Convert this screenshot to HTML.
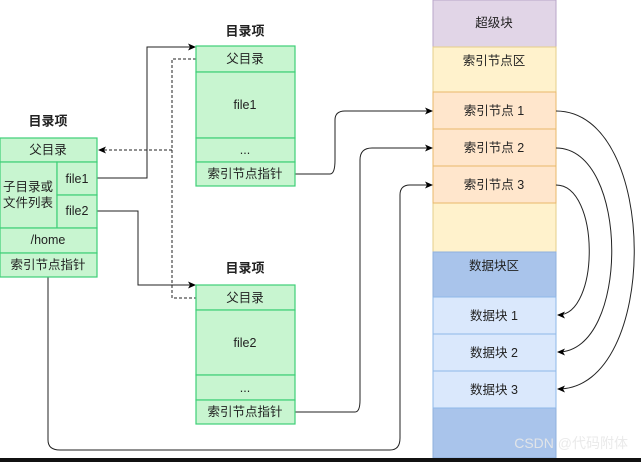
<!DOCTYPE html><html><head><meta charset="utf-8"><style>
body{margin:0;background:#fff;width:641px;height:462px;overflow:hidden}
svg text{font-family:"Liberation Sans","Noto Sans CJK SC",sans-serif;font-size:12.5px;fill:#222;text-anchor:middle;dominant-baseline:central}
.g{fill:#c8f5d0;stroke:#3ecf77;stroke-width:1.2}
.t{font-weight:bold;font-size:13px}
</style></head><body>
<svg width="641" height="462" xmlns="http://www.w3.org/2000/svg">
<defs><marker id="a" markerWidth="8" markerHeight="8" refX="7" refY="4" orient="auto" markerUnits="userSpaceOnUse"><path d="M0,0.5 L8,4 L0,7.5 L2,4Z" fill="#000"/></marker></defs>
<rect x="433" y="0" width="123" height="47" fill="#e1d5e7" stroke="#b9a6c9"/>
<rect x="433" y="47" width="123" height="205" fill="#fff2cc" stroke="#e6cf8a"/>
<rect x="433" y="92" width="123" height="37" fill="#ffe6cc" stroke="#e8b86a"/>
<rect x="433" y="129" width="123" height="37" fill="#ffe6cc" stroke="#e8b86a"/>
<rect x="433" y="166" width="123" height="37" fill="#ffe6cc" stroke="#e8b86a"/>
<rect x="433" y="252" width="123" height="206" fill="#a9c4eb" stroke="#8fb0de"/>
<rect x="433" y="297" width="123" height="37" fill="#dae8fc" stroke="#8fb8e8"/>
<rect x="433" y="334" width="123" height="37" fill="#dae8fc" stroke="#8fb8e8"/>
<rect x="433" y="371" width="123" height="37" fill="#dae8fc" stroke="#8fb8e8"/>
<text x="494" y="23">超级块</text><text x="494" y="61">索引节点区</text>
<text x="494" y="111">索引节点 1</text><text x="494" y="148">索引节点 2</text><text x="494" y="185">索引节点 3</text>
<text x="494" y="266">数据块区</text>
<text x="494" y="316">数据块 1</text><text x="494" y="353">数据块 2</text><text x="494" y="390">数据块 3</text>
<rect x="0" y="458" width="641" height="4" fill="#111"/>
<g fill="none" stroke="#222" stroke-width="1">
<path d="M556,111 C660,111 660,389 558,389" marker-end="url(#a)"/>
<path d="M556,148 C630,148 630,352 558,352" marker-end="url(#a)"/>
<path d="M556,185 C600,185 600,315 558,315" marker-end="url(#a)"/>
<path d="M97,178 H147 V47 H195" marker-end="url(#a)"/>
<path d="M97,211 H138 V285 H195" marker-end="url(#a)"/>
<path d="M295,174 H330 Q335,174 335,160 V120 Q335,111 345,111 H432" marker-end="url(#a)"/>
<path d="M295,412 H355 Q360,412 360,400 V160 Q360,148 372,148 H432" marker-end="url(#a)"/>
<path d="M48,277 V440 Q48,450 60,450 H390 Q400,450 400,438 V195 Q400,185 410,185 H432" marker-end="url(#a)"/>
<path d="M196,59 H172 V298 H196 M172,150 H99" stroke-dasharray="3,2" marker-end="url(#a)"/>
</g>
<text x="628" y="443" style="fill:#e8e8e8;font-size:14px;text-anchor:end;opacity:.9">CSDN @代码附体</text>
<text x="48" y="121" class="t">目录项</text>
<rect class="g" x="0" y="138" width="97" height="24"/><text x="48" y="150">父目录</text>
<rect class="g" x="0" y="162" width="57" height="66"/><text x="28" y="187">子目录或</text><text x="28" y="203">文件列表</text>
<rect class="g" x="57" y="162" width="40" height="33"/><text x="77" y="179">file1</text>
<rect class="g" x="57" y="195" width="40" height="33"/><text x="77" y="211">file2</text>
<rect class="g" x="0" y="228" width="97" height="25"/><text x="48" y="240">/home</text>
<rect class="g" x="0" y="253" width="97" height="24"/><text x="48" y="265">索引节点指针</text>
<text x="245" y="31" class="t">目录项</text>
<rect class="g" x="196" y="46" width="99" height="26"/><text x="245" y="59">父目录</text>
<rect class="g" x="196" y="72" width="99" height="66"/><text x="245" y="105">file1</text>
<rect class="g" x="196" y="138" width="99" height="24"/><text x="245" y="150">...</text>
<rect class="g" x="196" y="162" width="99" height="24"/><text x="245" y="174">索引节点指针</text>
<text x="245" y="268" class="t">目录项</text>
<rect class="g" x="196" y="285" width="99" height="25"/><text x="245" y="298">父目录</text>
<rect class="g" x="196" y="310" width="99" height="65"/><text x="245" y="343">file2</text>
<rect class="g" x="196" y="375" width="99" height="25"/><text x="245" y="388">...</text>
<rect class="g" x="196" y="400" width="99" height="24"/><text x="245" y="412">索引节点指针</text>
</svg></body></html>
